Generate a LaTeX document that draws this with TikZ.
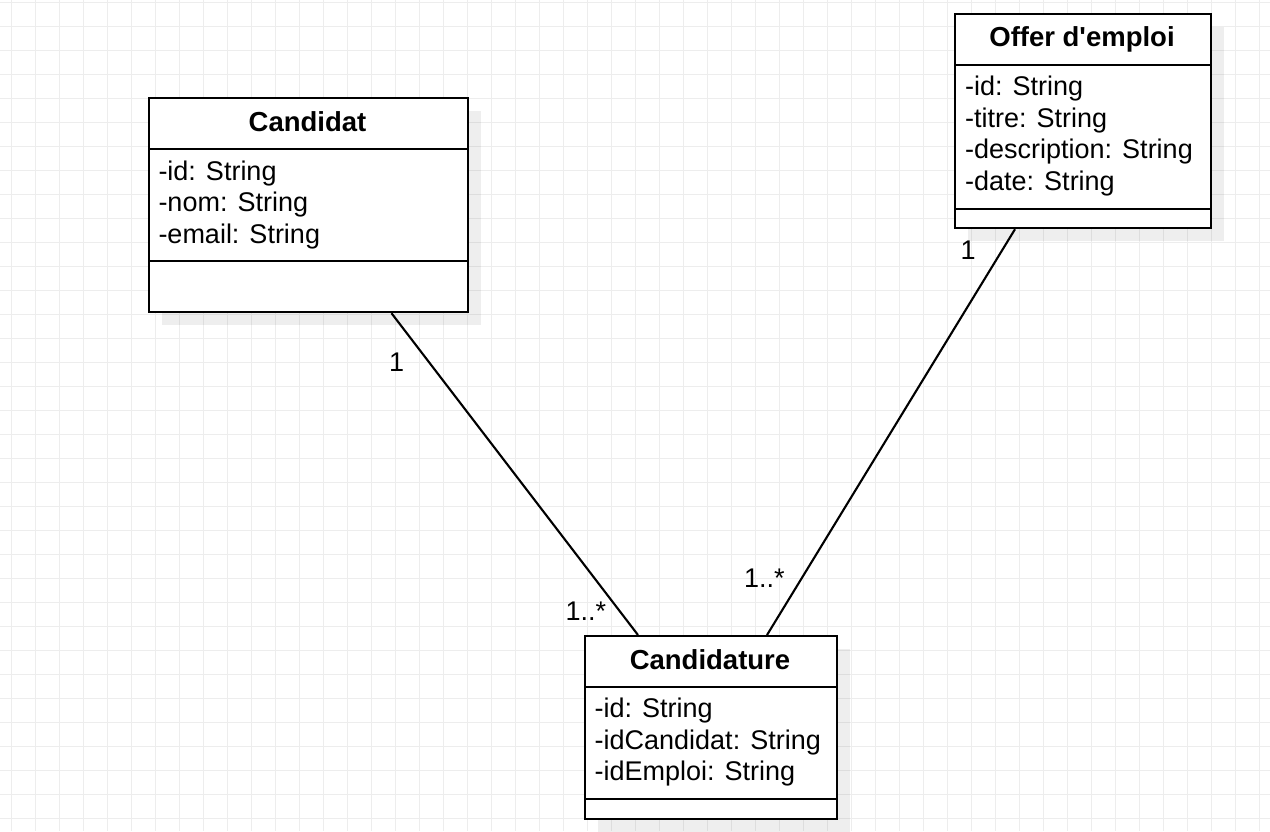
\documentclass[tikz,border=0pt]{standalone}
\usepackage{fontspec}
\setmainfont{Liberation Sans}
\definecolor{gridgray}{HTML}{EDEDED}
\begin{document}
\begin{tikzpicture}[x=1pt,y=-1pt,
  gridline/.style={draw=gridgray, line width=1.1pt},
  umlbox/.style={draw=black, fill=white, line width=2.2pt, rectangle, inner sep=0pt, anchor=north west},
  shadowbox/.style={fill=black, fill opacity=0.065},
  umltitle/.style={font=\fontsize{27.5}{31.5}\selectfont\bfseries, anchor=base, inner sep=0pt},
  attr/.style={font=\fontsize{27}{31.5}\selectfont, anchor=base west, inner sep=0pt},
  mult/.style={font=\fontsize{27}{31.5}\selectfont, anchor=base west, inner sep=0pt},
  assoc/.style={draw=black, line width=2.1pt},
  sepline/.style={draw=black, line width=2.2pt}]
% background and bounding box
\fill[white] (0,0) rectangle (1270,831);
\useasboundingbox (0,0) rectangle (1270,831);
% grid
\foreach \i in {0,...,52} { \draw[gridline] ({11.7+24*\i},0) -- ({11.7+24*\i},831); }
\foreach \j in {0,...,34} { \draw[gridline] (0,{2.7+24*\j}) -- (1270,{2.7+24*\j}); }
% shadows
\fill[shadowbox] (162,111) rectangle (481,325);
\fill[shadowbox] (968,27) rectangle (1224,241);
\fill[shadowbox] (598,649) rectangle (850,832);
% boxes
\node[umlbox, minimum width=319pt, minimum height=214pt] (cand) at (148,97) {};
\node[umlbox, minimum width=256pt, minimum height=214pt] (offer) at (954,13) {};
\node[umlbox, minimum width=252pt, minimum height=183pt] (cdt) at (584,635) {};
% compartment separators
\draw[sepline] ([yshift=-52pt]cand.north west) -- ([yshift=-52pt]cand.north east);
\draw[sepline] ([yshift=-164pt]cand.north west) -- ([yshift=-164pt]cand.north east);
\draw[sepline] ([yshift=-52pt]offer.north west) -- ([yshift=-52pt]offer.north east);
\draw[sepline] ([yshift=-196pt]offer.north west) -- ([yshift=-196pt]offer.north east);
\draw[sepline] ([yshift=-52pt]cdt.north west) -- ([yshift=-52pt]cdt.north east);
\draw[sepline] ([yshift=-164pt]cdt.north west) -- ([yshift=-164pt]cdt.north east);
% Candidat
\node[umltitle] (candT) at (307.5,131) {Candidat};
\node[attr] (candA1) at (158.3,180) {-id: String};
\node[attr] (candA2) at (158.3,211.5) {-nom: String};
\node[attr] (candA3) at (158.3,243) {-email: String};
% Offer
\node[umltitle] (offerT) at (1082,46.5) {Offer d\textquotesingle emploi};
\node[attr] (offerA1) at (965,95.7) {-id: String};
\node[attr] (offerA2) at (965,127.2) {-titre: String};
\node[attr] (offerA3) at (965,158.7) {-description: String};
\node[attr] (offerA4) at (965,190.2) {-date: String};
% Candidature
\node[umltitle] (cdtT) at (710,669.3) {Candidature};
\node[attr] (cdtA1) at (594.5,717.7) {-id: String};
\node[attr] (cdtA2) at (594.5,749.2) {-idCandidat: String};
\node[attr] (cdtA3) at (594.5,780.7) {-idEmploi: String};
% associations
\draw[assoc] ([xshift=243.5pt]cand.south west) -- ([xshift=54pt]cdt.north west);
\draw[assoc] ([xshift=61pt]offer.south west) -- ([xshift=183pt]cdt.north west);
% multiplicities
\node[mult] (m1) at (388.8,371) {1};
\node[mult] (m2) at (565.4,620) {1..*};
\node[mult] (m3) at (960.4,259.3) {1};
\node[mult] (m4) at (743.8,587.3) {1..*};
\end{tikzpicture}
\end{document}
